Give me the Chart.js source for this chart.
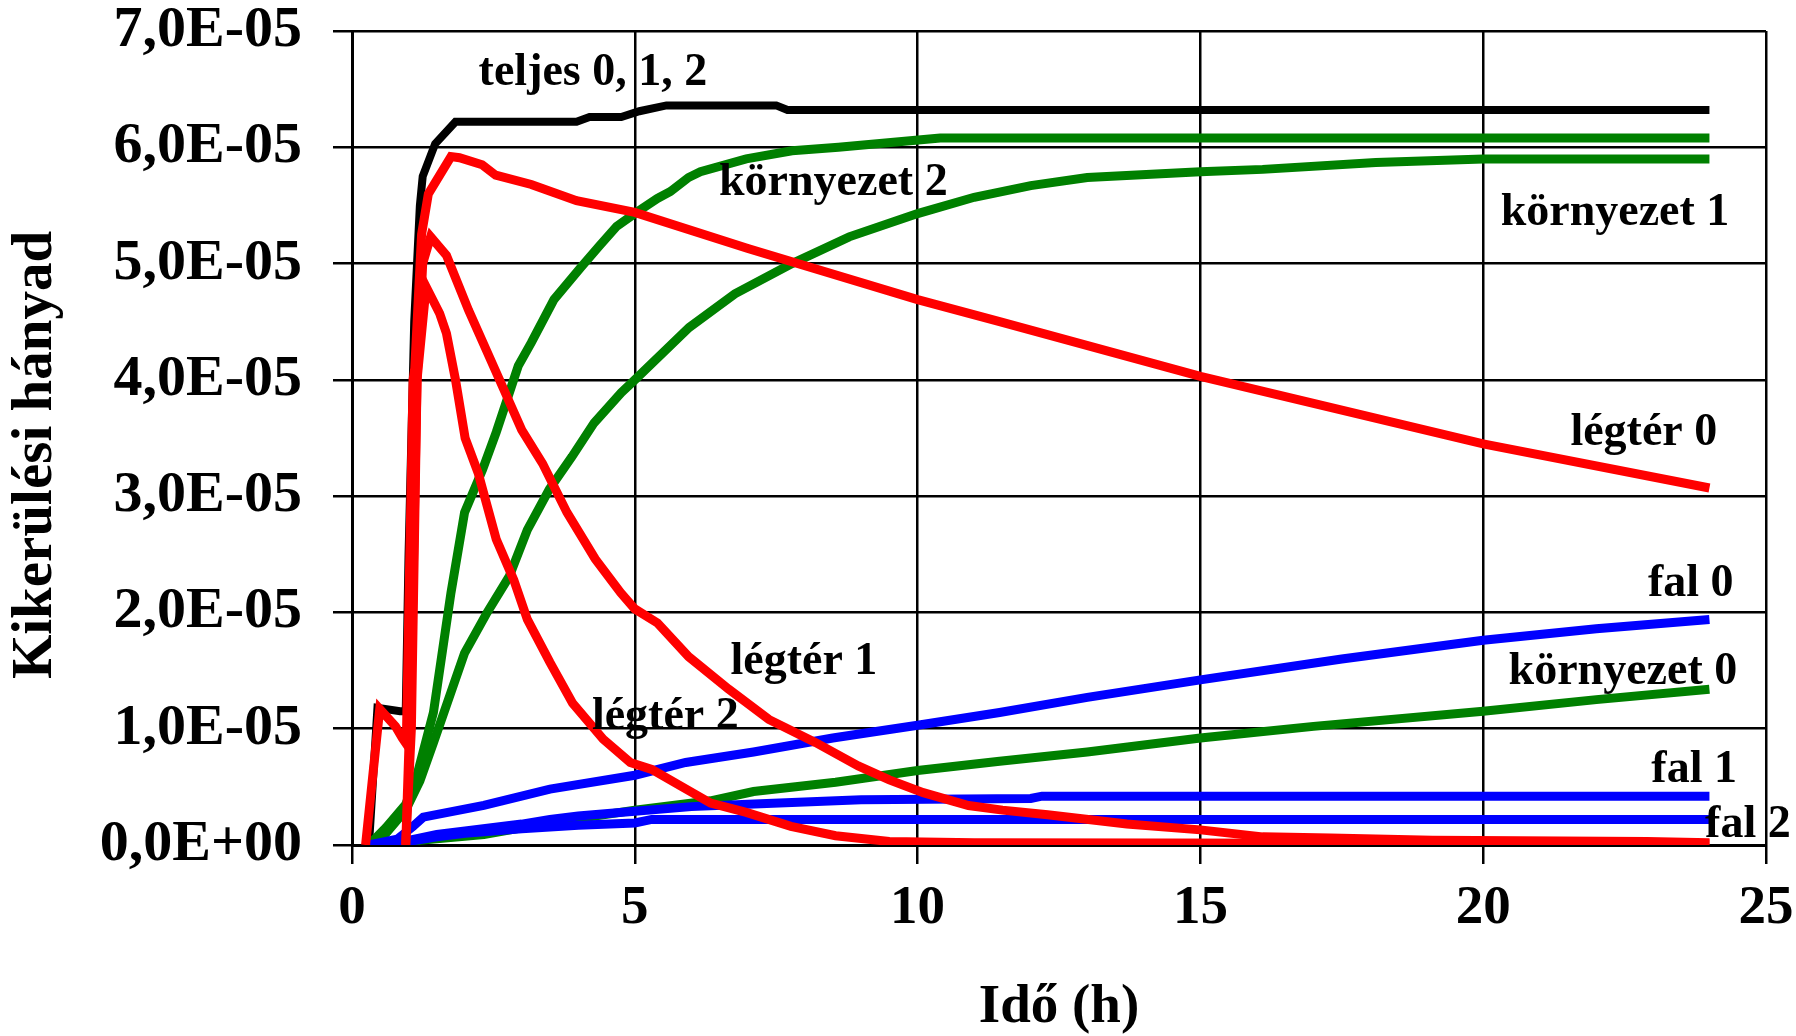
<!DOCTYPE html>
<html>
<head>
<meta charset="utf-8">
<script src="https://cdn.jsdelivr.net/npm/chart.js@4.4.1/dist/chart.umd.min.js"></script>
<style>
  html, body { margin: 0; padding: 0; background: #fff; }
</style>
</head>
<body>
<canvas id="chart" width="1796" height="1036"></canvas>
<script>
// time (h) and fraction values (in units of 1E-05)
const teljesT = [0.3, 0.45, 0.85, 0.95, 1.0, 1.1, 1.2, 1.25, 1.47, 1.83, 3.97, 4.2, 4.76, 5.08, 5.56, 7.5, 7.7, 24];
const teljesV = [0, 1.18, 1.15, 1.15, 2.5, 4.5, 5.5, 5.75, 6.03, 6.22, 6.22, 6.26, 6.26, 6.31, 6.36, 6.36, 6.32, 6.32];

const legter0T = [0.24, 0.49, 0.77, 0.89, 0.96, 1.08, 1.11, 1.23, 1.35, 1.75, 1.9, 2.3, 2.54, 3.17, 3.97, 5.0, 7.0, 10, 11.45, 15, 20, 24];
const legter0V = [0, 1.17, 1.02, 0.92, 0.87, 4.0, 4.1, 5.25, 5.6, 5.92, 5.91, 5.85, 5.76, 5.68, 5.54, 5.44, 5.13, 4.69, 4.5, 4.03, 3.45, 3.07];

const legter1T = [0.95, 1.05, 1.15, 1.25, 1.39, 1.67, 2.06, 2.38, 2.7, 3.0, 3.37, 3.8, 4.3, 4.75, 5.0, 5.4, 5.95, 6.66, 7.37, 8.2, 8.95, 9.5, 10.1, 10.9, 11.5, 12.3, 13.7, 15, 16.1, 17.3, 19.1, 22.9, 24];
const legter1V = [0, 1.0, 4.0, 5.0, 5.23, 5.07, 4.6, 4.25, 3.9, 3.57, 3.28, 2.86, 2.46, 2.17, 2.03, 1.91, 1.62, 1.34, 1.08, 0.88, 0.68, 0.56, 0.45, 0.34, 0.3, 0.26, 0.18, 0.13, 0.07, 0.06, 0.04, 0.03, 0.02];

const legter2T = [0.95, 1.05, 1.15, 1.31, 1.55, 1.67, 1.83, 2.0, 2.23, 2.55, 2.86, 3.1, 3.5, 3.9, 4.44, 4.92, 5.3, 5.8, 6.34, 6.97, 7.76, 8.55, 9.5, 11, 24];
const legter2V = [0, 1.5, 4.0, 4.8, 4.57, 4.4, 4.0, 3.5, 3.2, 2.63, 2.28, 1.94, 1.57, 1.22, 0.91, 0.71, 0.65, 0.51, 0.36, 0.28, 0.16, 0.08, 0.03, 0.02, 0.01];

const korny2T = [0.3, 0.6, 0.95, 1.15, 1.44, 1.75, 1.99, 2.31, 2.55, 2.94, 3.17, 3.57, 4.05, 4.37, 4.68, 5.0, 5.4, 5.63, 5.95, 6.16, 6.97, 7.78, 8.6, 10.4, 24];
const korny2V = [0, 0.15, 0.35, 0.6, 1.14, 2.17, 2.86, 3.23, 3.55, 4.12, 4.32, 4.69, 4.97, 5.15, 5.32, 5.43, 5.56, 5.62, 5.74, 5.79, 5.9, 5.97, 6.0, 6.08, 6.08];

const korny1T = [0.3, 0.6, 0.95, 1.2, 1.44, 1.99, 2.39, 2.78, 3.1, 3.49, 3.89, 4.28, 4.76, 5.0, 5.96, 6.77, 7.78, 8.79, 10, 11, 12, 13, 15, 16.1, 18.1, 20, 24];
const korny1V = [0, 0.1, 0.3, 0.55, 0.88, 1.65, 2.0, 2.31, 2.71, 3.06, 3.34, 3.63, 3.89, 4.0, 4.45, 4.74, 5.0, 5.23, 5.43, 5.57, 5.67, 5.74, 5.79, 5.81, 5.87, 5.9, 5.9];

const korny0T = [0.3, 1.0, 1.2, 2.33, 3.5, 5.0, 6.34, 7.1, 8.55, 10, 11.45, 13, 15, 17, 20, 22, 24];
const korny0V = [0, 0.02, 0.04, 0.09, 0.19, 0.3, 0.38, 0.46, 0.54, 0.64, 0.72, 0.8, 0.92, 1.02, 1.15, 1.25, 1.34];

const fal0T = [0.3, 0.8, 1.08, 1.26, 2.33, 3.5, 5.0, 5.9, 7.1, 8.5, 10, 11.45, 13, 15, 17.5, 20, 22, 24];
const fal0V = [0, 0.05, 0.16, 0.24, 0.34, 0.48, 0.6, 0.71, 0.8, 0.92, 1.03, 1.14, 1.27, 1.42, 1.6, 1.76, 1.86, 1.94];

const fal1T = [0.3, 1.0, 1.5, 2.0, 3.0, 3.5, 4.0, 5.0, 6.0, 7.0, 8.0, 9.0, 12.0, 12.2, 24];
const fal1V = [0, 0.04, 0.09, 0.12, 0.18, 0.22, 0.25, 0.29, 0.33, 0.35, 0.37, 0.39, 0.40, 0.42, 0.42];

const fal2T = [0.3, 1.0, 1.5, 2.0, 3.0, 4.0, 5.0, 5.3, 24];
const fal2V = [0, 0.03, 0.07, 0.10, 0.14, 0.17, 0.19, 0.22, 0.22];

// text labels next to the curves (x in h, y in 1E-05)
const labelTexts = ["teljes 0, 1, 2", "környezet 2", "környezet 1", "légtér 0", "fal 0", "légtér 1", "környezet 0", "légtér 2", "fal 1", "fal 2"];
const labelX = [4.26, 8.51, 22.33, 22.84, 23.67, 7.99, 22.47, 5.54, 23.73, 24.68];
const labelY = [6.64, 5.69, 5.43, 3.54, 2.24, 1.57, 1.49, 1.10, 0.645, 0.17];

const xTitle = "Idő (h)";
const yTitle = "Kikerülési hányad";

const UNIT = 1e-5;

function points(ts, vs) {
    const out = [];
    for (let i = 0; i < ts.length; i++) {
        out.push({ x: ts[i], y: vs[i] * UNIT });
    }
    return out;
}

function line(label, ts, vs, color, width) {
    return {
        label: label,
        data: points(ts, vs),
        borderColor: color,
        backgroundColor: color,
        borderWidth: width,
        pointRadius: 0,
        tension: 0,
        fill: false,
    };
}

function sciLabel(value) {
    const parts = Number(value).toExponential(1).split("e");
    const exp = parseInt(parts[1], 10);
    const sign = exp < 0 ? "-" : "+";
    return parts[0].replace(".", ",") + "E" + sign + String(Math.abs(exp)).padStart(2, "0");
}

const serif = "'Liberation Serif', 'Times New Roman', serif";

// curve labels and the two axis titles
const textPlugin = {
    id: "texts",
    afterDraw(chart) {
        const { ctx, scales } = chart;
        ctx.save();
        ctx.fillStyle = "#000";
        ctx.textAlign = "center";
        ctx.textBaseline = "middle";
        ctx.font = "bold 46px " + serif;
        for (let i = 0; i < labelTexts.length; i++) {
            ctx.fillText(labelTexts[i], scales.x.getPixelForValue(labelX[i]), scales.y.getPixelForValue(labelY[i] * UNIT));
        }
        ctx.font = "bold 55px " + serif;
        ctx.fillText(xTitle, (scales.x.left + scales.x.right) / 2, 1008);
        ctx.translate(36, 455);
        ctx.rotate(-Math.PI / 2);
        ctx.font = "bold 57px " + serif;
        ctx.fillText(yTitle, 0, 0);
        ctx.restore();
    }
};

const chart = new Chart(document.getElementById("chart"), {
    type: "line",
    data: {
        datasets: [
            line("légtér 0", legter0T, legter0V, "#ff0000", 9),
            line("légtér 1", legter1T, legter1V, "#ff0000", 9),
            line("légtér 2", legter2T, legter2V, "#ff0000", 9),
            line("fal 0", fal0T, fal0V, "#0000ff", 9),
            line("fal 1", fal1T, fal1V, "#0000ff", 9),
            line("fal 2", fal2T, fal2V, "#0000ff", 9),
            line("környezet 0", korny0T, korny0V, "#008000", 9),
            line("környezet 1", korny1T, korny1V, "#008000", 9),
            line("környezet 2", korny2T, korny2V, "#008000", 9),
            line("teljes 0, 1, 2", teljesT, teljesV, "#000000", 8),
        ],
    },
    options: {
        responsive: false,
        animation: false,
        devicePixelRatio: 1,
        layout: { padding: { top: 31, right: 30, left: 0, bottom: 0 } },
        plugins: {
            legend: { display: false },
            tooltip: { enabled: false },
        },
        scales: {
            x: {
                type: "linear",
                min: 0,
                max: 25,
                ticks: {
                    stepSize: 5,
                    color: "#000",
                    padding: 12,
                    maxRotation: 0,
                    font: { family: serif, size: 55, weight: "bold" },
                },
                grid: { color: "#000", lineWidth: 2.5, tickLength: 19 },
                border: { color: "#000", width: 3 },
                afterFit(scale) {
                    scale.height = 191;
                    scale.paddingLeft = 0;
                    scale.paddingRight = 0;
                },
            },
            y: {
                min: 0,
                max: 7 * UNIT,
                ticks: {
                    stepSize: UNIT,
                    color: "#000",
                    padding: 31,
                    font: { family: serif, size: 58, weight: "bold" },
                    callback: (value) => sciLabel(value),
                },
                grid: { color: "#000", lineWidth: 2.5, tickLength: 19 },
                border: { color: "#000", width: 3 },
                afterFit(scale) {
                    scale.width = 352;
                    scale.paddingTop = 0;
                    scale.paddingBottom = 0;
                },
            },
        },
    },
    plugins: [textPlugin],
});
</script>
</body>
</html>
